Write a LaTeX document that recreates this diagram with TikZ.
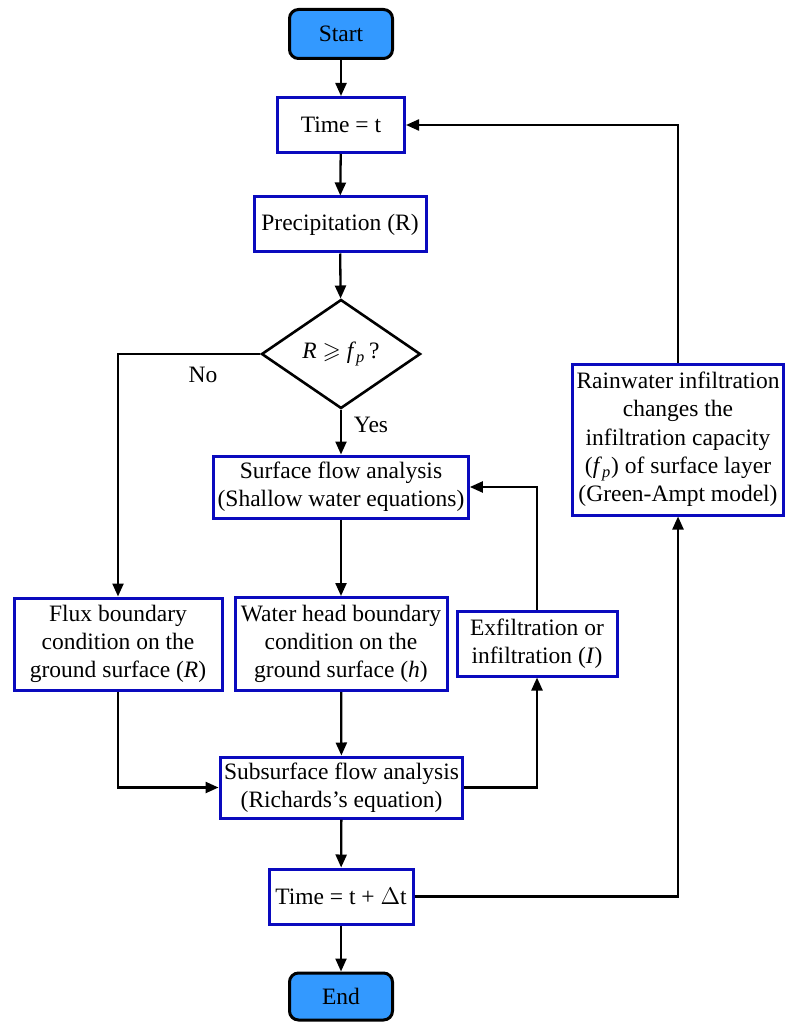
\documentclass[tikz,border=0pt]{standalone}
\usepackage{amssymb}
\usepackage{fontspec}
\setmainfont{Liberation Serif}
\usetikzlibrary{arrows.meta,shapes.geometric}
\definecolor{boxblue}{RGB}{10,10,190}
\definecolor{termfill}{RGB}{51,153,255}
\begin{document}
\begin{tikzpicture}[x=0.5pt,y=-0.5pt,
  every node/.style={font=\fontsize{11.75}{14.15}\selectfont},
  proc/.style={draw=boxblue,line width=1.5pt,fill=white,rectangle,align=center,inner sep=2pt},
  term/.style={draw=black,line width=1.5pt,fill=termfill,rounded corners=4.5pt,align=center},
  decis/.style={draw=black,line width=1.3pt,diamond,inner sep=0pt,minimum width=79.5pt,minimum height=54.5pt},
  arr/.style={line width=1.15pt,-{Triangle[length=6.5pt,width=5.5pt]}},
  lbl/.style={inner sep=0pt}]
\useasboundingbox (0,0) rectangle (784,1026);
\node[term,minimum width=51.5pt,minimum height=24.5pt] (start) at (341,34) {Start};
\node[proc,minimum width=63.5pt,minimum height=27.5pt] (time) at (341,125) {Time = t};
\node[proc,minimum width=86pt,minimum height=27.5pt] (prec) at (340,224.5) {Precipitation (R)};
\node[decis] (dia) at (341,354) {\textit{R} $\geqslant$ \textit{f}\textsubscript{\textit{p}}\,?};
\node[proc,minimum width=105pt,minimum height=31pt] (surf) at (341,487) {Surface flow analysis\\(Shallow water equations)};
\node[proc,minimum width=104pt,minimum height=46pt] (flux) at (118,644) {Flux boundary\\condition on the\\ground surface (\textit{R})};
\node[proc,minimum width=106pt,minimum height=46.5pt] (water) at (341,644) {Water head boundary\\condition on the\\ground surface (\textit{h})};
\node[proc,minimum width=80pt,minimum height=32.5pt] (exf) at (537,643.5) {Exfiltration or\\infiltration (\textit{I})};
\node[proc,minimum width=120.5pt,minimum height=30.5pt] (sub) at (341.5,787.5) {Subsurface flow analysis\\(Richards's equation)};
\node[proc,minimum width=72pt,minimum height=27.5pt] (tdt) at (341,896.5) {Time = t + $\Delta$t};
\node[term,minimum width=51.5pt,minimum height=23.5pt] (end) at (341,996.5) {End};
\node[proc,minimum width=104pt,minimum height=75.5pt] (rain) at (678,439.5) {Rainwater infiltration\\changes the\\infiltration capacity\\(\textit{f}\textsubscript{\textit{p}}) of surface layer\\(Green-Ampt model)};
\node[lbl] (no) at (203,375) {No};
\node[lbl] (yes) at (371,425) {Yes};
\draw[arr] (start) -- (time);
\draw[arr] (time) -- (prec);
\draw[arr] (prec) -- (dia);
\draw[arr] (dia.west) -| (flux.north);
\draw[arr] (dia.south) -- (surf.north);
\draw[arr] (surf) -- (water);
\draw[arr] (water) -- (sub);
\draw[arr] (flux.south) |- (sub.west);
\draw[arr] (sub.east) -| (exf.south);
\draw[arr] (exf.north) |- (surf.east);
\draw[arr] (sub) -- (tdt);
\draw[arr] (tdt) -- (end);
\draw[arr] (tdt.east) -| (rain.south);
\draw[arr] (rain.north) |- (time.east);
\end{tikzpicture}
\end{document}
